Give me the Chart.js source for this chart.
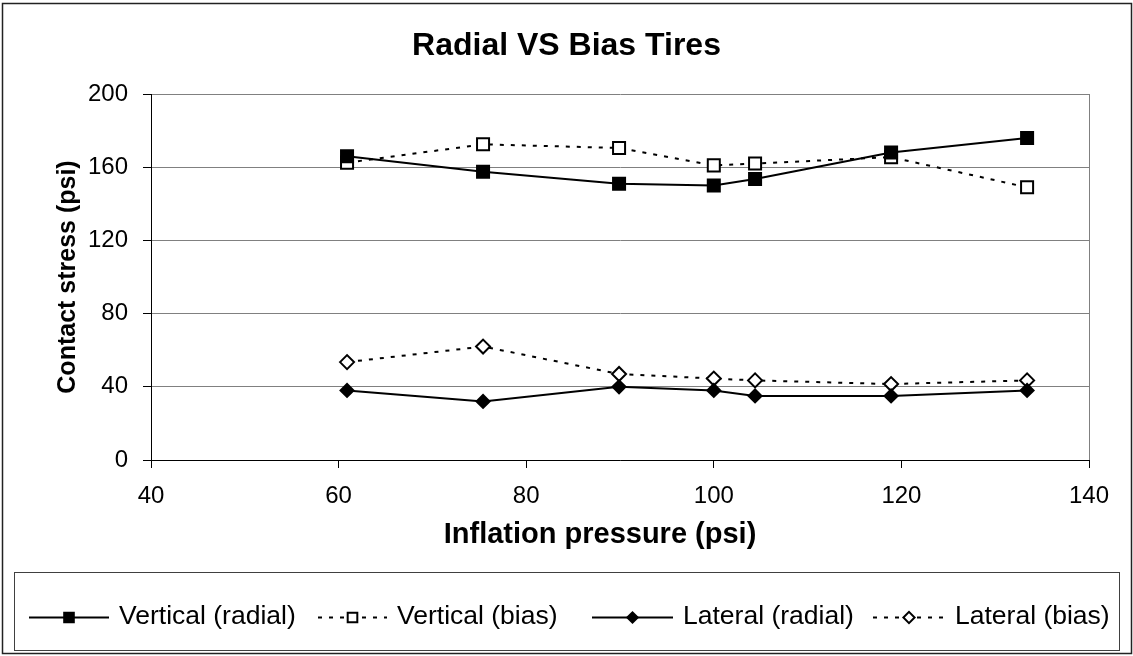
<!DOCTYPE html>
<html>
<head>
<meta charset="utf-8">
<title>Radial VS Bias Tires</title>
<script src="https://cdn.jsdelivr.net/npm/chart.js"></script>
<style>
    html, body { margin: 0; padding: 0; background: #fff; }
    #wrap { position: relative; width: 1133px; height: 656px; }
</style>
</head>
<body>
<div id="wrap"><canvas id="chart" width="1133" height="656"></canvas></div>
<script>
// inflation pressure (psi)
const pressure = [60.9, 75.4, 89.9, 100, 104.4, 118.9, 133.4];

// contact stress (psi)
const verticalRadial = [166, 157.5, 151, 150, 153.5, 168, 176];
const verticalBias = [162.5, 172.5, 170.5, 161, 162, 165.5, 149];
const lateralRadial = [38, 32, 40, 38, 35, 35, 38];
const lateralBias = [53.5, 62, 47, 44.5, 43.5, 41.5, 43.5];

const seriesNames = ['Vertical (radial)', 'Vertical (bias)', 'Lateral (radial)', 'Lateral (bias)'];

const xTicks = [40, 60, 80, 100, 120, 140];
const yTicks = [0, 40, 80, 120, 160, 200];

const FONT = '"Liberation Sans", Arial, sans-serif';

const pts = ys => pressure.map((x, i) => ({ x, y: ys[i] }));

function series(label, ys, dashed, style, filled, r) {
    return {
        label,
        data: pts(ys),
        borderColor: '#000',
        borderWidth: 2,
        borderDash: dashed ? [4, 7] : [],
        pointStyle: style,
        pointRadius: r,
        pointHoverRadius: r,
        pointBorderWidth: 2,
        pointBorderColor: '#000',
        pointBackgroundColor: filled ? '#000' : '#fff',
        tension: 0,
    };
}

function drawMarker(ctx, style, x, y, r, filled) {
    ctx.beginPath();
    if (style === 'rect') {
        const s = r * Math.SQRT1_2;
        ctx.rect(x - s, y - s, 2 * s, 2 * s);
    } else {
        ctx.moveTo(x - r, y);
        ctx.lineTo(x, y - r);
        ctx.lineTo(x + r, y);
        ctx.lineTo(x, y + r);
        ctx.closePath();
    }
    ctx.fillStyle = filled ? '#000' : '#fff';
    ctx.fill();
    ctx.lineWidth = 2;
    ctx.strokeStyle = '#000';
    ctx.stroke();
}

// frame, titles and the boxed legend under the plot
const frameLegend = {
    id: 'frameLegend',
    beforeDraw(chart) {
        const ctx = chart.ctx;
        ctx.save();
        ctx.fillStyle = '#fff';
        ctx.fillRect(0, 0, chart.width, chart.height);
        ctx.restore();
    },
    afterDraw(chart, args, opts) {
        const ctx = chart.ctx;
        ctx.save();
        ctx.strokeStyle = '#222';
        ctx.lineWidth = 1.5;
        ctx.strokeRect(2.5, 3.5, 1129, 650);

        // titles
        ctx.fillStyle = '#000';
        ctx.textAlign = 'center';
        ctx.textBaseline = 'middle';
        ctx.font = 'bold 32px ' + FONT;
        ctx.fillText(opts.title, chart.width / 2, 46);
        ctx.font = 'bold 29px ' + FONT;
        ctx.fillText(opts.xTitle, 600, 535);

        // legend box
        ctx.strokeStyle = '#404040';
        ctx.lineWidth = 1;
        ctx.strokeRect(14.5, 572.5, 1105, 78);

        ctx.font = opts.fontSize + 'px ' + FONT;
        ctx.textBaseline = 'alphabetic';
        ctx.textAlign = 'left';
        chart.data.datasets.forEach((ds, i) => {
            const x0 = opts.starts[i];
            const x1 = opts.textStarts[i] - 10;
            const y = opts.lineY;
            ctx.beginPath();
            ctx.setLineDash(ds.borderDash);
            ctx.lineWidth = 2;
            ctx.strokeStyle = '#000';
            ctx.moveTo(x0, y);
            ctx.lineTo(x1, y);
            ctx.stroke();
            ctx.setLineDash([]);
            drawMarker(ctx, ds.pointStyle, (x0 + x1) / 2, y, ds.pointRadius * 0.8, ds.pointBackgroundColor === '#000');
            ctx.fillStyle = '#000';
            ctx.fillText(ds.label, opts.textStarts[i], opts.textY);
        });
        ctx.restore();
    }
};

const chart = new Chart(document.getElementById('chart'), {
    type: 'line',
    data: {
        datasets: [
            series(seriesNames[0], verticalRadial, false, 'rect', true, 8.5),
            series(seriesNames[1], verticalBias, true, 'rect', false, 8.5),
            series(seriesNames[2], lateralRadial, false, 'rectRot', true, 6.5),
            series(seriesNames[3], lateralBias, true, 'rectRot', false, 7),
        ]
    },
    options: {
        responsive: false,
        animation: false,
        layout: { padding: { left: 10, right: 44, top: 94, bottom: 84 } },
        plugins: {
            legend: { display: false },
            tooltip: { enabled: false },
            title: { display: false },
            frameLegend: {
                title: 'Radial VS Bias Tires',
                xTitle: 'Inflation pressure (psi)',
                starts: [29, 318, 592, 873],
                textStarts: [119, 397, 683, 955],
                lineY: 617.5,
                textY: 624,
                fontSize: 26.5,
            },
        },
        scales: {
            x: {
                type: 'linear',
                min: xTicks[0],
                max: xTicks[xTicks.length - 1],
                afterBuildTicks: s => { s.ticks = xTicks.map(v => ({ value: v })); },
                afterFit: s => { s.height = 112; },
                grid: {
                    drawOnChartArea: true,
                    color: c => c.tick && c.tick.value === 140 ? '#808080' : 'rgba(0,0,0,0)',
                    tickColor: '#000',
                    tickLength: 8,
                    lineWidth: 1,
                },
                border: { color: '#000', width: 1 },
                ticks: {
                    color: '#000',
                    padding: 14,
                    maxRotation: 0,
                    font: { family: FONT, size: 24 },
                },
            },
            y: {
                min: yTicks[0],
                max: yTicks[yTicks.length - 1],
                afterBuildTicks: s => { s.ticks = yTicks.map(v => ({ value: v })); },
                afterFit: s => { s.width = 141; },
                grid: {
                    color: '#808080',
                    tickColor: '#000',
                    tickLength: 8,
                    lineWidth: 1,
                },
                border: { color: '#000', width: 1 },
                ticks: {
                    color: '#000',
                    padding: 15,
                    font: { family: FONT, size: 24 },
                },
                title: {
                    display: true,
                    text: 'Contact stress (psi)',
                    color: '#000',
                    font: { family: FONT, size: 25, weight: 'bold' },
                    padding: { top: 43, bottom: 0 },
                },
            },
        },
    },
    plugins: [frameLegend],
});
</script>
</body>
</html>
